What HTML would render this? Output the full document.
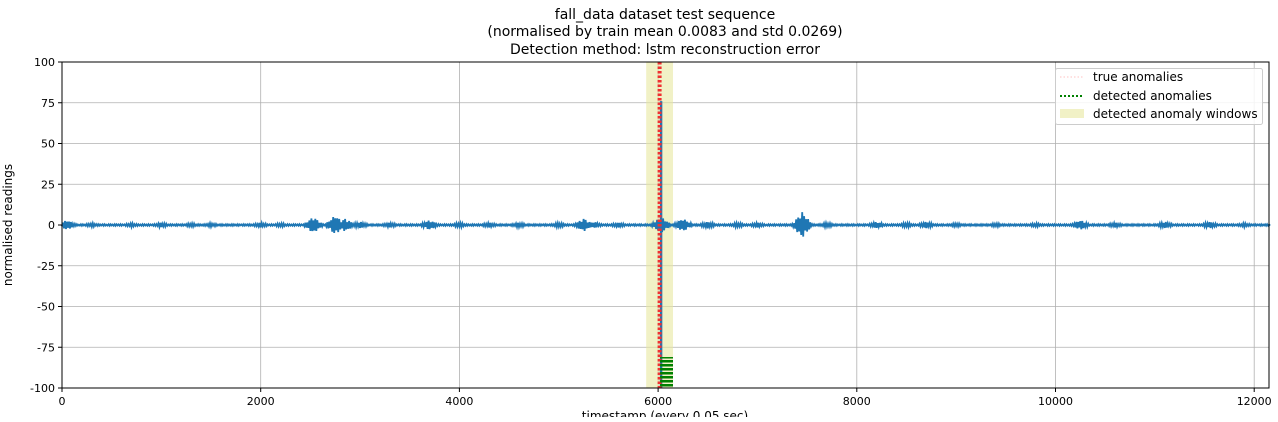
<!DOCTYPE html>
<html><head><meta charset="utf-8"><style>
body{margin:0;background:#fff;font-family:"Liberation Sans","DejaVu Sans",sans-serif}
</style></head><body>
<svg id="c" width="1278" height="417" xmlns="http://www.w3.org/2000/svg" font-family="DejaVu Sans, Liberation Sans, sans-serif">
<text x="665" y="19" text-anchor="middle" font-size="14">fall_data dataset test sequence</text>
<text x="665" y="36" text-anchor="middle" font-size="14">(normalised by train mean 0.0083 and std 0.0269)</text>
<text x="665" y="54" text-anchor="middle" font-size="14">Detection method: lstm reconstruction error</text>
<g id="grid"></g><g id="marks"></g>
<rect x="62" y="62" width="1207" height="326" fill="none" stroke="#000" stroke-width="1"/>
<g id="ticks"></g>
<text transform="translate(12,225) rotate(-90)" text-anchor="middle" font-size="12">normalised readings</text>
<text x="665" y="420" text-anchor="middle" font-size="12">timestamp (every 0.05 sec)</text>
<g>
<rect x="1055.5" y="68.5" width="207" height="56" rx="2" fill="#fff" fill-opacity="0.85" stroke="#ccc"/>
<line x1="1060" y1="77" x2="1084" y2="77" stroke="#f99" stroke-width="1.5" stroke-dasharray="1.5,2" opacity="0.4"/>
<text x="1093" y="81" font-size="12">true anomalies</text>
<line x1="1060" y1="96" x2="1084" y2="96" stroke="green" stroke-width="2" stroke-dasharray="2,2"/>
<text x="1093" y="100" font-size="12">detected anomalies</text>
<rect x="1060" y="109" width="24" height="9" fill="#e8e8a0" opacity="0.6"/>
<text x="1093" y="118" font-size="12">detected anomaly windows</text>
</g>
</svg>
<script>
const xTicks=[0,2000,4000,6000,8000,10000,12000];
const yTicks=[100,75,50,25,0,-25,-50,-75,-100];
const burstX=[50,300,700,1000,1300,1500,2000,2200,2530,2750,2850,3000,3300,3700,4000,4300,4600,5000,5250,5350,5600,6030,6250,6500,6800,7000,7450,7700,8200,8500,8700,9000,9400,9800,10250,10600,11100,11550,11900];
const burstAmp=[3,1.2,1.2,1.5,1.2,1.2,1.5,1.2,5,6,4,2,1.5,3,1.5,1.5,1.5,1.5,4,2,1.5,5,4,2,1.5,1.5,8,1.5,2,1.5,2,1.2,1.2,1.2,3,1.5,2,2,1.2];
const windowRange=[5880,6150];
const trueAnom=[6000];
const detectedX=[6020,6150];
const detectedY=[-81,-100];
const spikeX=6030, spikeTop=76, spikeBottom=-100;
const X=v=>62+v*0.09935, Y=v=>225-v*1.63;
const ns="http://www.w3.org/2000/svg";
function mk(t,a,p){const e=document.createElementNS(ns,t);for(const k in a)e.setAttribute(k,a[k]);p.appendChild(e);return e;}
const g=document.getElementById('grid'),m=document.getElementById('marks'),tk=document.getElementById('ticks');
xTicks.forEach(v=>{const l=mk('line',{x1:X(v),x2:X(v),y1:62,y2:388,stroke:'#b0b0b0','stroke-width':0.8},g);


mk('line',{x1:X(v),x2:X(v),y1:388,y2:392,stroke:'#000'},tk);
const t=mk('text',{x:X(v),y:405,'text-anchor':'middle','font-size':11},tk);t.textContent=v;

});
yTicks.forEach(v=>{const l=mk('line',{x1:62,x2:1269,y1:Y(v),y2:Y(v),stroke:'#b0b0b0','stroke-width':0.8},g);


mk('line',{x1:58,x2:62,y1:Y(v),y2:Y(v),stroke:'#000'},tk);
const t=mk('text',{x:55,y:Y(v)+4,'text-anchor':'end','font-size':11},tk);t.textContent=v;

});
const w=mk('rect',{x:X(windowRange[0]),y:62,width:X(windowRange[1])-X(windowRange[0]),height:326,fill:'#e8e8a0',opacity:0.6},m);


let d='M62,225';
for(let v=0;v<=12160;v+=10){let a=0.5;burstX.forEach((b,i)=>{const dd=Math.abs(v-b);if(dd<110)a=Math.max(a,burstAmp[i]*(1-dd/110));});
const s=((v/10)%2?1:-1)*a*(0.5+0.5*Math.abs(Math.sin(v*0.37)));d+='L'+X(v).toFixed(1)+','+Y(s).toFixed(1);}
const p=mk('path',{d:d,fill:'none',stroke:'#1f77b4','stroke-width':1.8},m);


const sp=mk('line',{x1:X(spikeX),x2:X(spikeX),y1:Y(spikeTop),y2:Y(spikeBottom),stroke:'#1f77b4','stroke-width':2.5},m);


trueAnom.forEach(v=>{const l=mk('line',{x1:X(v)+1.5,x2:X(v)+1.5,y1:62,y2:388,stroke:'#f03030','stroke-width':4,'stroke-dasharray':'2.5,2'},m);

});
const gr=mk('rect',{x:X(detectedX[0]),y:Y(detectedY[0]),width:X(detectedX[1])-X(detectedX[0]),height:Y(detectedY[1])-Y(detectedY[0]),fill:'url(#gs)'},m);


const defs=mk('defs',{},document.getElementById('c'));
const pat=mk('pattern',{id:'gs',width:4,height:4,patternUnits:'userSpaceOnUse'},defs);
mk('rect',{width:4,height:2.5,fill:'green'},pat);
</script>
</body></html>
